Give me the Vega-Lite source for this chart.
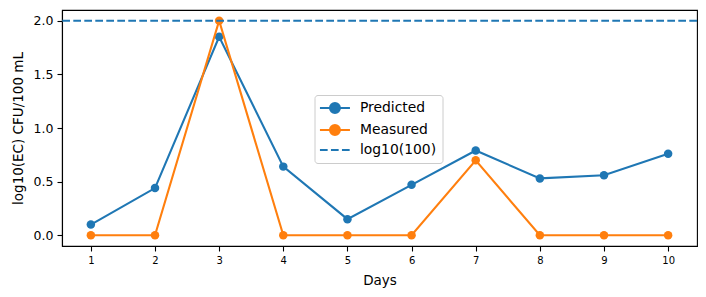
{
  "$schema": "https://vega.github.io/schema/vega-lite/v6.json",
  "width": 635,
  "height": 236,
  "autosize": {"type": "none"},
  "padding": {"left": 62, "top": 10, "right": 9, "bottom": 51},
  "background": "white",
  "config": {
    "font": "DejaVu Sans",
    "view": {"stroke": "black", "strokeWidth": 1.1},
    "axis": {"grid": false, "domainColor": "black", "tickColor": "black", "domainWidth": 1.1, "tickWidth": 1.1, "tickSize": 5, "labelColor": "black", "titleColor": "black", "titleFontWeight": "normal"}
  },
  "datasets": {
    "series": [
      {"day": 1, "value": 0.10, "series": "Predicted"},
      {"day": 2, "value": 0.44, "series": "Predicted"},
      {"day": 3, "value": 1.85, "series": "Predicted"},
      {"day": 4, "value": 0.64, "series": "Predicted"},
      {"day": 5, "value": 0.15, "series": "Predicted"},
      {"day": 6, "value": 0.47, "series": "Predicted"},
      {"day": 7, "value": 0.79, "series": "Predicted"},
      {"day": 8, "value": 0.53, "series": "Predicted"},
      {"day": 9, "value": 0.56, "series": "Predicted"},
      {"day": 10, "value": 0.76, "series": "Predicted"},
      {"day": 1, "value": 0, "series": "Measured"},
      {"day": 2, "value": 0, "series": "Measured"},
      {"day": 3, "value": 2.0, "series": "Measured"},
      {"day": 4, "value": 0, "series": "Measured"},
      {"day": 5, "value": 0, "series": "Measured"},
      {"day": 6, "value": 0, "series": "Measured"},
      {"day": 7, "value": 0.699, "series": "Measured"},
      {"day": 8, "value": 0, "series": "Measured"},
      {"day": 9, "value": 0, "series": "Measured"},
      {"day": 10, "value": 0, "series": "Measured"}
    ],
    "ref": [{"value": 2.0, "series": "log10(100)"}]
  },
  "layer": [
    {
      "data": {"name": "series"},
      "mark": {"type": "point", "filled": true, "opacity": 1, "size": 72},
      "encoding": {
        "x": {"field": "day", "type": "quantitative",
          "scale": {"domain": [0.55, 10.45], "nice": false, "zero": false},
          "axis": {"values": [1,2,3,4,5,6,7,8,9,10], "format": "d", "title": "Days", "labelFontSize": 10, "titleFontSize": 13.5, "labelPadding": 4, "titlePadding": 8, "labelFlush": false}
        },
        "y": {"field": "value", "type": "quantitative",
          "scale": {"domain": [-0.1, 2.1], "nice": false, "zero": false},
          "axis": {"values": [0, 0.5, 1, 1.5, 2], "format": ".1f", "title": "log10(EC) CFU/100 mL", "labelFontSize": 12.5, "titleFontSize": 13.5, "labelPadding": 4, "titlePadding": 8}
        },
        "color": {"field": "series", "type": "nominal",
          "scale": {"domain": ["Predicted", "Measured", "log10(100)"], "range": ["#1f77b4", "#ff7f0e", "#1f77b4"]},
          "legend": {
            "title": null,
            "orient": "none",
            "legendX": 252.5,
            "legendY": 85,
            "padding": 6,
            "fillColor": "rgba(255,255,255,0.8)",
            "strokeColor": "#cccccc",
            "cornerRadius": 3,
            "labelFontSize": 13.9,
            "labelColor": "black",
            "symbolSize": 100,
            "symbolType": {"expr": "datum.value === 'log10(100)' ? 'M-3,0H-1.46M-0.8,0H0.74M1.4,0H2.94' : 'M-3,0H3M1,0A1,1,0,1,1,-1,0A1,1,0,1,1,1,0Z'"},
            "symbolStrokeColor": {"expr": "datum.value === 'Measured' ? '#ff7f0e' : '#1f77b4'"},
            "symbolOffset": 7.5,
            "labelOffset": 18,
            "rowPadding": 3,
            "symbolStrokeWidth": 2,
            "encode": {
              "symbols": {
                "stroke": {"value": {"expr": "datum.value === 'Measured' ? '#ff7f0e' : '#1f77b4'"}},
                "strokeWidth": {"value": 2}
              }
            }
          }
        }
      }
    },
    {
      "data": {"name": "series"},
      "mark": {"type": "line", "strokeWidth": 2.1},
      "encoding": {
        "x": {"field": "day", "type": "quantitative"},
        "y": {"field": "value", "type": "quantitative"},
        "color": {"field": "series", "type": "nominal"}
      }
    },
    {
      "data": {"name": "ref"},
      "mark": {"type": "rule", "strokeWidth": 2.1, "strokeDash": [7.7, 3.3]},
      "encoding": {
        "y": {"field": "value", "type": "quantitative"},
        "color": {"field": "series", "type": "nominal"}
      }
    }
  ]
}
